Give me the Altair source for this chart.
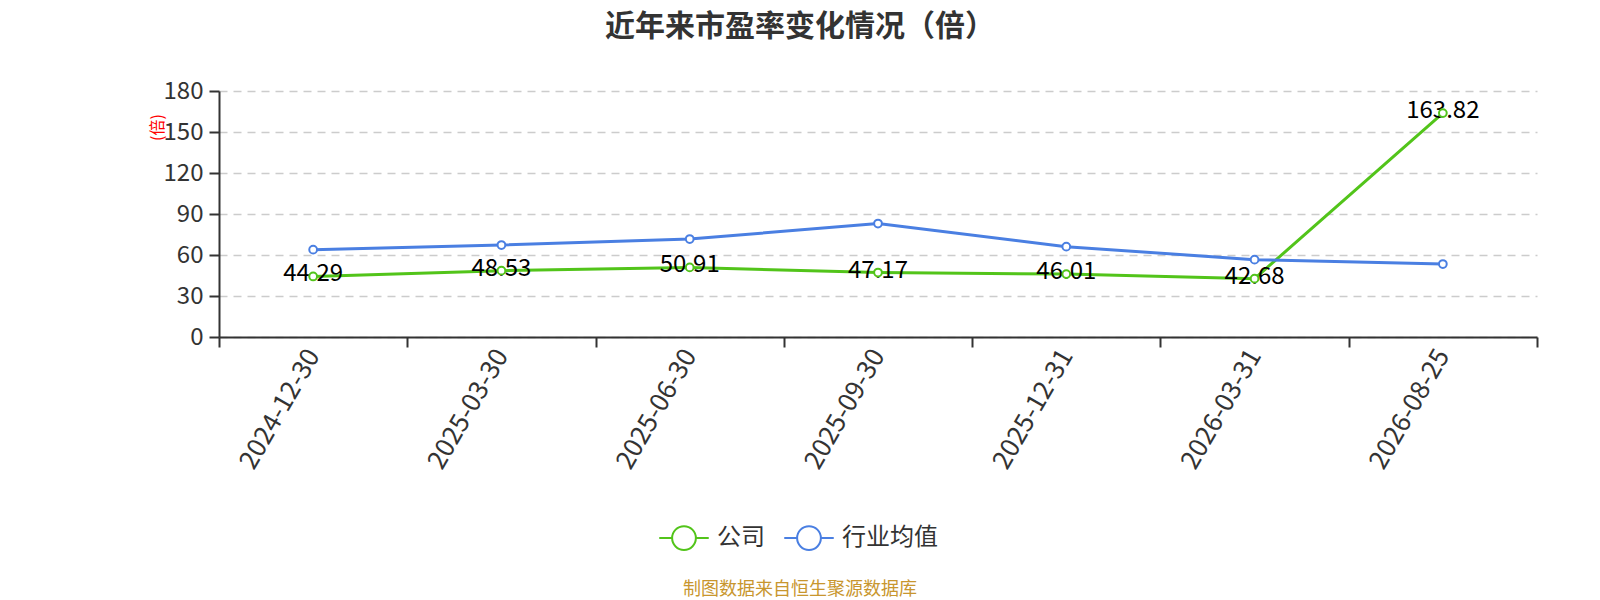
import altair as alt
import pandas as pd

dates = ["2024-12-30", "2025-03-30", "2025-06-30", "2025-09-30", "2025-12-31", "2026-03-31", "2026-08-25"]
company = [44.29, 48.53, 50.91, 47.17, 46.01, 42.68, 163.82]
industry = [63.9, 67.3, 71.7, 83.0, 66.1, 56.6, 53.4]
series_names = ["公司", "行业均值"]
series_colors = ["#52C41A", "#4A7FE2"]
y_ticks = [0, 30, 60, 90, 120, 150, 180]
title_text = "近年来市盈率变化情况（倍）"
footer_text = "制图数据来自恒生聚源数据库"
y_title = "(倍)"

rows = []
for d, v in zip(dates, company):
    rows.append({"date": d, "value": v, "series": series_names[0], "label": f"{v:.2f}"})
for d, v in zip(dates, industry):
    rows.append({"date": d, "value": v, "series": series_names[1], "label": ""})
df = pd.DataFrame(rows)

FONT = "Noto Sans CJK SC"
W, H = 1318, 246

x_enc = alt.X("date:N", sort=dates,
              scale=alt.Scale(type="band", paddingInner=0, paddingOuter=0),
              axis=alt.Axis(title=None, tickBand="extent", labelAngle=-60, labelAlign="right",
                            labelBaseline="middle", labelFontSize=26, labelColor="#333333",
                            labelFont=FONT, labelPadding=4, tickSize=10, tickColor="#333333",
                            tickWidth=2, domainColor="#333333", domainWidth=2, grid=False))
y_enc = alt.Y("value:Q", scale=alt.Scale(domain=[0, 180], nice=False, zero=True),
              axis=alt.Axis(values=y_ticks, title=y_title, titleColor="red", titleFontSize=16,
                            titleFont=FONT, titleFontWeight="normal", titleAngle=-90,
                            titleX=-62, titleY=36, titleAlign="center", titleBaseline="middle",
                            labelFontSize=24, labelColor="#333333", labelFont=FONT, labelPadding=6,
                            tickSize=10, tickColor="#333333", tickWidth=2,
                            domainColor="#333333", domainWidth=2,
                            grid=True, gridColor="#cccccc", gridDash=[8, 6], gridWidth=1.5))
color_scale = alt.Scale(domain=series_names, range=series_colors)

legend_path = "M-1,0L-0.48,0M0.48,0L1,0M-0.48,0A0.48,0.48 0 1,1 0.48,0A0.48,0.48 0 1,1 -0.48,0Z"
legend = alt.Legend(title=None, orient="none", legendX=439, legendY=421,
                    direction="horizontal", symbolType=legend_path,
                    symbolSize=2450, symbolStrokeWidth=2,
                    symbolFillColor="white", labelFontSize=24,
                    labelFont=FONT, labelColor="#333333", labelOffset=7,
                    columnPadding=15, padding=0)
color_enc = alt.Color("series:N", scale=color_scale, legend=legend)

base = alt.Chart(df)

lines = base.mark_line(strokeWidth=3).encode(x=x_enc, y=y_enc, color=color_enc)

labels = base.transform_filter(alt.datum.label != "").mark_text(
    fontSize=24, font=FONT, color="#000000", baseline="middle", align="center", dy=-2
).encode(x=x_enc, y=y_enc, text="label:N")

points = base.mark_point(filled=False, fill="white", fillOpacity=1, size=60, strokeWidth=2, opacity=1).encode(
    x=x_enc, y=y_enc, color=color_enc)

ann = pd.DataFrame({"t": [title_text]})
title = alt.Chart(ann).mark_text(fontSize=30, fontWeight="bold", font=FONT, color="#333333",
                                 align="center", baseline="middle").encode(
    x=alt.value(581), y=alt.value(-64), text="t:N")

foot = pd.DataFrame({"t": [footer_text]})
footer = alt.Chart(foot).mark_text(fontSize=18, font=FONT, color="#C8962E",
                                   align="center", baseline="middle").encode(
    x=alt.value(581), y=alt.value(499), text="t:N")

chart = alt.layer(lines, labels, points, title, footer).properties(
    width=W, height=H,
    autosize=alt.AutoSizeParams(type="none"),
    padding={"left": 211, "top": 83, "right": 55, "bottom": 263},
).configure(font=FONT).configure_view(stroke=None)

chart.save("out.html", embed_options={"renderer": "svg", "actions": False})
